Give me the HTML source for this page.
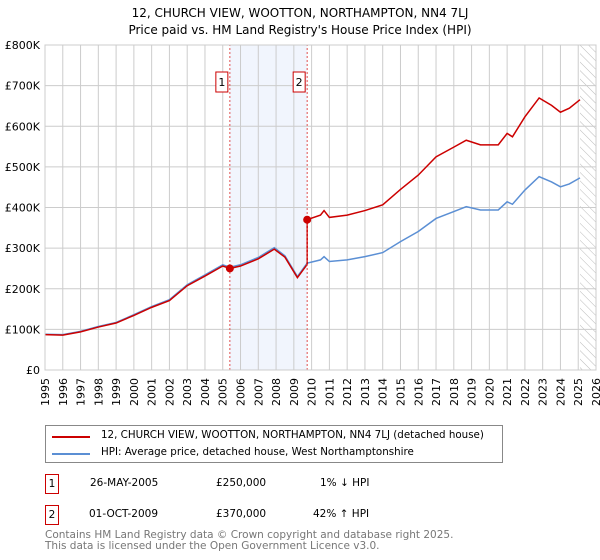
<!DOCTYPE html>
<html><head><meta charset="utf-8"><style>
body{margin:0;background:#fff;font-family:"DejaVu Sans","Liberation Sans",sans-serif;}
#wrap{position:relative;width:600px;height:560px;overflow:hidden}
svg text{font-family:"DejaVu Sans","Liberation Sans",sans-serif}
</style></head><body>
<div id="wrap">
<svg id="chart" width="600" height="560">
<defs><pattern id="hatch" width="6" height="6" patternUnits="userSpaceOnUse" patternTransform="rotate(-45)"><line x1="0" y1="0" x2="0" y2="6" stroke="#bbb" stroke-width="1"/></pattern></defs>
<text x="300" y="17" text-anchor="middle" font-size="12">12, CHURCH VIEW, WOOTTON, NORTHAMPTON, NN4 7LJ</text>
<text x="300" y="34" text-anchor="middle" font-size="12">Price paid vs. HM Land Registry's House Price Index (HPI)</text>
<g id="grid"></g><g id="marks"></g>
</svg>
<div style="position:absolute;left:45px;top:425px;width:456px;height:36px;border:1px solid #888;font-size:10.3px;white-space:nowrap">
 <div style="position:absolute;left:6px;top:5px;width:38px;height:2px;margin-top:5px;background:#cc0000"></div>
 <div style="position:absolute;left:55px;top:3px">12, CHURCH VIEW, WOOTTON, NORTHAMPTON, NN4 7LJ (detached house)</div>
 <div style="position:absolute;left:6px;top:22px;width:38px;height:2px;margin-top:5px;background:#5b8fd4"></div>
 <div style="position:absolute;left:55px;top:20px">HPI: Average price, detached house, West Northamptonshire</div>
</div>
<div style="font-size:10.5px;white-space:nowrap">
 <div style="position:absolute;left:45px;top:474px;width:12px;height:18px;border:1px solid #cc0000;text-align:center;line-height:18px">1</div>
 <div style="position:absolute;left:90px;top:477px">26-MAY-2005</div>
 <div style="position:absolute;left:216px;top:477px">£250,000</div>
 <div style="position:absolute;left:320px;top:477px">1% ↓ HPI</div>
 <div style="position:absolute;left:45px;top:505px;width:12px;height:18px;border:1px solid #cc0000;text-align:center;line-height:18px">2</div>
 <div style="position:absolute;left:89px;top:508px">01-OCT-2009</div>
 <div style="position:absolute;left:216px;top:508px">£370,000</div>
 <div style="position:absolute;left:313px;top:508px">42% ↑ HPI</div>
 <div style="position:absolute;left:45px;top:530px;color:#777;line-height:11px">Contains HM Land Registry data © Crown copyright and database right 2025.<br>This data is licensed under the Open Government Licence v3.0.</div>
</div>
</div>
<script>
const hpiYears=[1995,1996,1997,1998,1999,2000,2001,2002,2003,2004,2005,2005.4,2006,2007,2007.9,2008.5,2009.2,2009.75,2010.5,2010.7,2011,2012,2013,2014,2015,2016,2017,2018,2018.7,2019.5,2020.5,2021,2021.3,2022,2022.8,2023.5,2024,2024.5,2025.1];
const hpiValues=[88,87,95,107,117,136,156,173,210,234,259,253,259,277,301,281,230,263,271,279,267,271,279,289,316,341,373,390,402,394,394,414,408,443,476,463,451,458,473];
const saleYears=[2005.4,2009.75];
const salePrices=[250,370];
const yTicks=[0,100,200,300,400,500,600,700,800];
const yTickLabels=["£0","£100K","£200K","£300K","£400K","£500K","£600K","£700K","£800K"];
const xTicks=[1995,1996,1997,1998,1999,2000,2001,2002,2003,2004,2005,2006,2007,2008,2009,2010,2011,2012,2013,2014,2015,2016,2017,2018,2019,2020,2021,2022,2023,2024,2025,2026];
const NS="http://www.w3.org/2000/svg";
const X=y=>45+(y-1995)*(596-45)/31, Y=v=>370-v*325/800;
const grid=document.getElementById('grid'), marks=document.getElementById('marks');
function mk(p,tag,at){const e=document.createElementNS(NS,tag);for(const k in at)e.setAttribute(k,at[k]);p.appendChild(e);return e;}
let e;
e=mk(grid,'rect',{x:X(saleYears[0]),y:Y(800),width:X(saleYears[1])-X(saleYears[0]),height:Y(0)-Y(800),fill:'#eef3fc',opacity:0.8});


e=mk(grid,'rect',{x:X(2025.1),y:Y(800),width:X(2026)-X(2025.1),height:Y(0)-Y(800),fill:'url(#hatch)'});


xTicks.forEach(t=>{
 e=mk(grid,'line',{x1:X(t),x2:X(t),y1:Y(0),y2:Y(800),stroke:'#ccc','stroke-width':1});
 
 
 const tx=X(t)+4, ty=378;
 e=mk(grid,'text',{x:tx,y:ty,'text-anchor':'end','font-size':11,transform:'rotate(-90 '+tx+' '+ty+')'});
 e.textContent=t;
 
 
});
yTicks.forEach((t,i)=>{
 e=mk(grid,'line',{x1:X(1995),x2:X(2026),y1:Y(t),y2:Y(t),stroke:'#ccc','stroke-width':1});
 
 
 e=mk(grid,'text',{x:40,y:Y(t)+4,'text-anchor':'end','font-size':11});
 e.textContent=yTickLabels[i];
 
 
});
function hpiAt(y){for(let i=1;i<hpiYears.length;i++){if(y<=hpiYears[i]){const f=(y-hpiYears[i-1])/(hpiYears[i]-hpiYears[i-1]);return hpiValues[i-1]+f*(hpiValues[i]-hpiValues[i-1]);}}return hpiValues[hpiValues.length-1];}
const r1=salePrices[0]/hpiAt(saleYears[0]), r2=salePrices[1]/hpiAt(saleYears[1]);
e=mk(marks,'polyline',{points:hpiYears.map((y,i)=>X(y)+','+Y(hpiValues[i])).join(' '),fill:'none',stroke:'#5b8fd4','stroke-width':1.5});


const pts=[];
hpiYears.forEach((y,i)=>{ if(y<saleYears[1]) pts.push([y,hpiValues[i]*r1]); });
pts.push([saleYears[1],hpiAt(saleYears[1])*r1]); pts.push([saleYears[1],salePrices[1]]);
hpiYears.forEach((y,i)=>{ if(y>saleYears[1]) pts.push([y,hpiValues[i]*r2]); });
e=mk(marks,'polyline',{points:pts.map(p=>X(p[0])+','+Y(p[1])).join(' '),fill:'none',stroke:'#cc0000','stroke-width':1.5});


saleYears.forEach((y,i)=>{
 e=mk(marks,'line',{x1:X(y),x2:X(y),y1:Y(0),y2:Y(800),stroke:'#e05050','stroke-width':1,'stroke-dasharray':'2,2'});
 
 
 e=mk(marks,'circle',{cx:X(y),cy:Y(salePrices[i]),r:4,fill:'#cc0000'});
 
 
 e=mk(marks,'rect',{x:X(y)-14,y:72,width:12,height:20,fill:'#fff',stroke:'#cc0000'});
 
 
 e=mk(marks,'text',{x:X(y)-8,y:86,'text-anchor':'middle','font-size':11});
 e.textContent=String(i+1);
 
 
});
e=mk(marks,'rect',{x:X(1995),y:Y(800),width:X(2026)-X(1995),height:Y(0)-Y(800),fill:'none',stroke:'#ccc'});


</script>
</body></html>
